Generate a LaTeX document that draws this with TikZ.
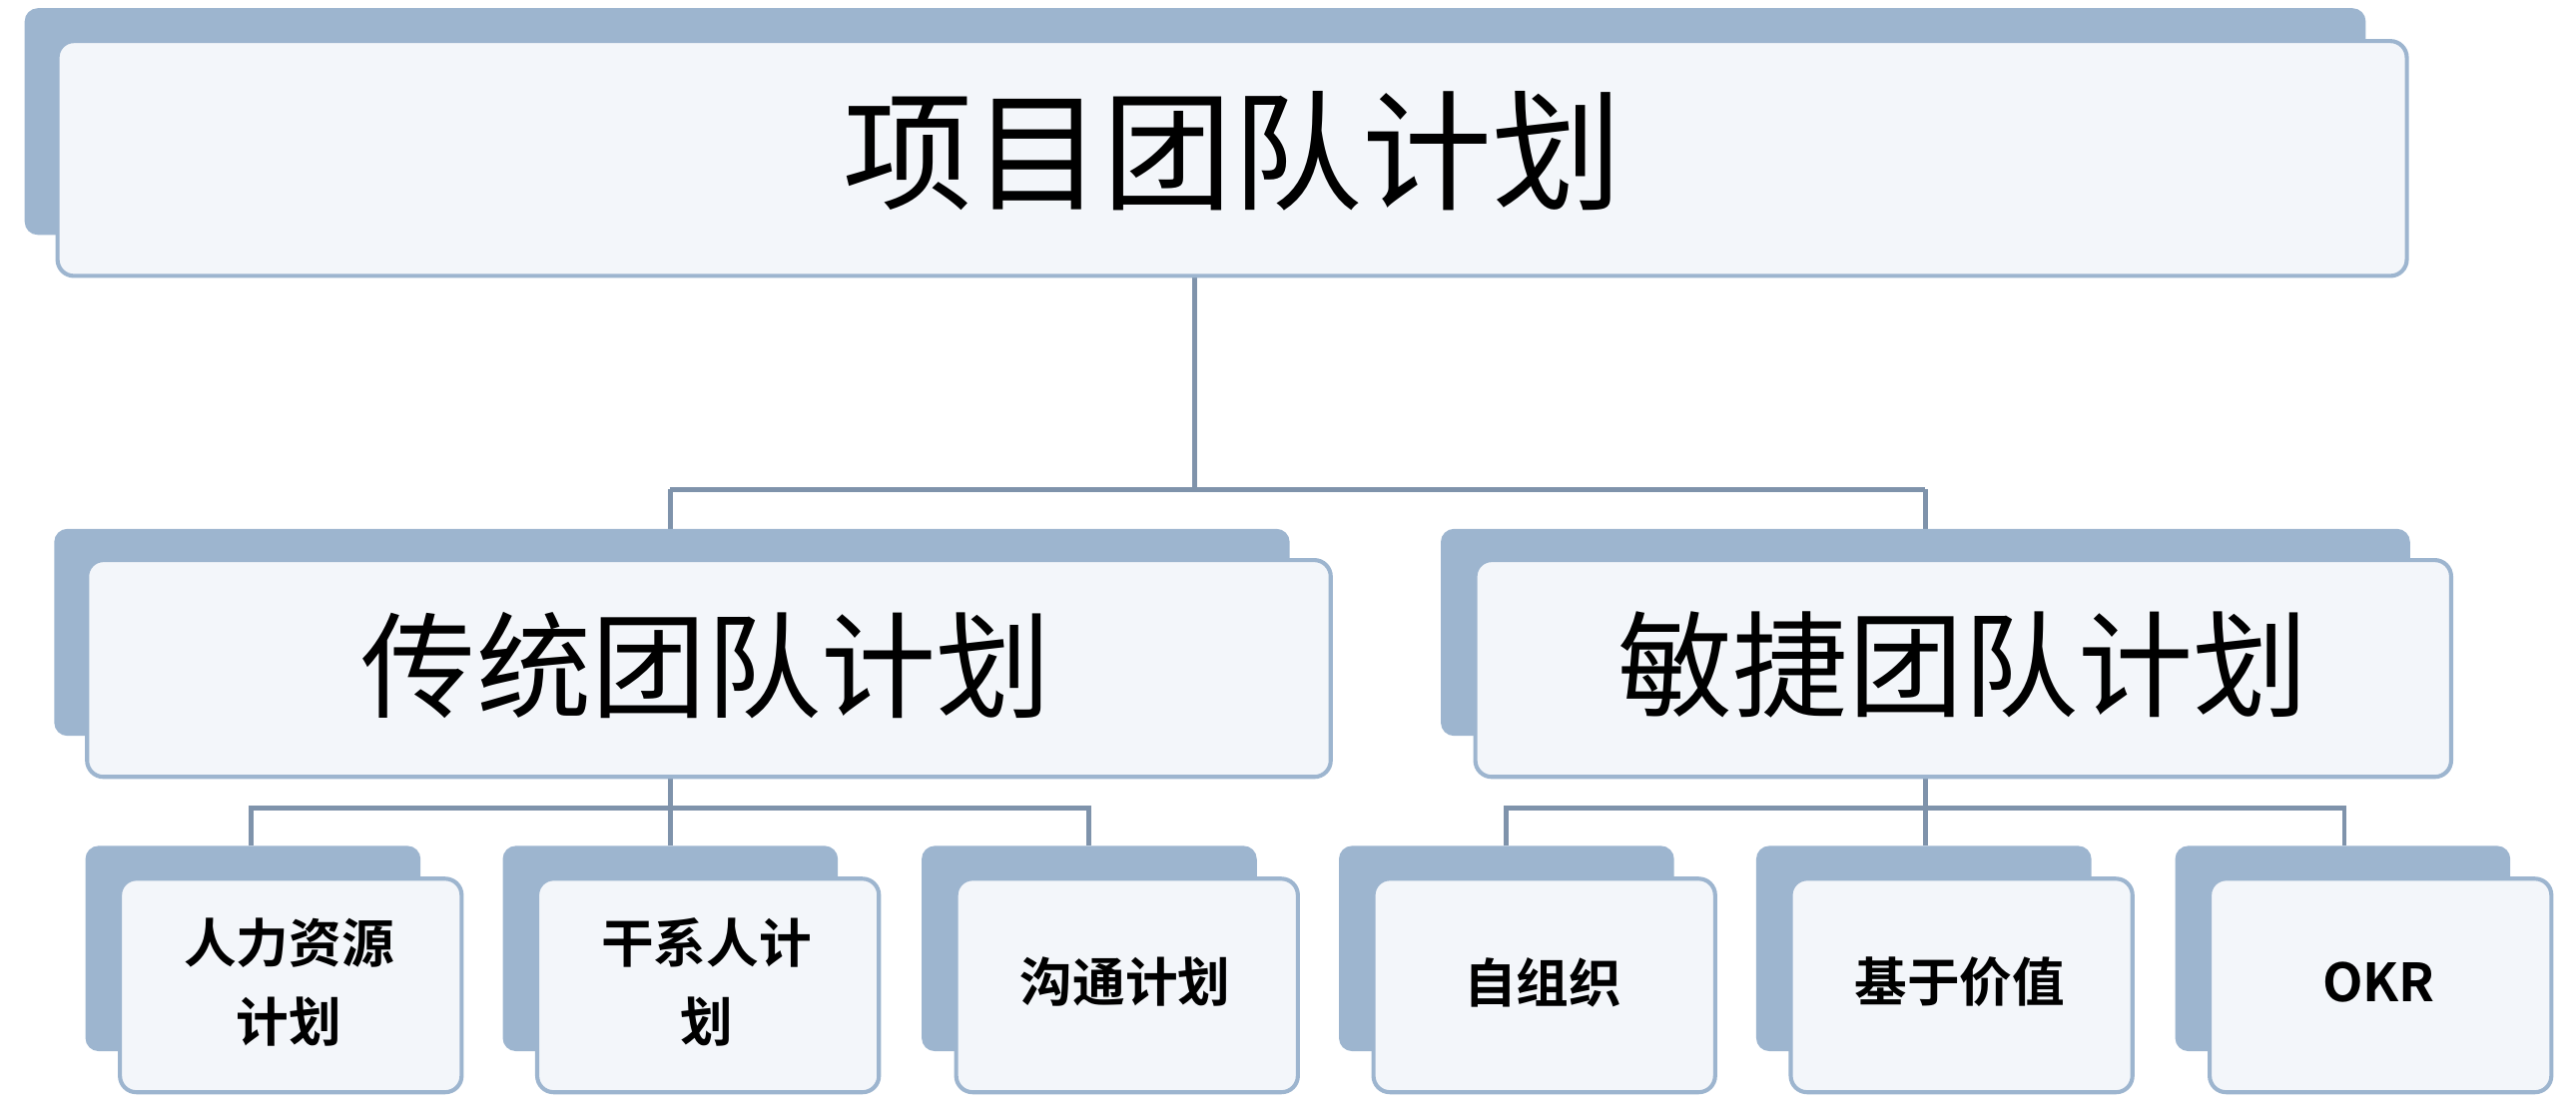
\documentclass[tikz,border=0pt]{standalone}
\usepackage{fontspec}
\newfontfamily\cjk{Noto Sans CJK SC}
\newfontfamily\cjkb{Noto Sans CJK SC Bold}
\definecolor{backc}{HTML}{9DB5CF}
\definecolor{frontc}{HTML}{F3F6FA}
\definecolor{linec}{HTML}{7F93AB}
\tikzset{
 backbox/.style={fill=backc,rounded corners=8pt,draw=none},
 frontbox/.style={fill=frontc,draw=backc,line width=2.5pt,rounded corners=10pt},
 conn/.style={draw=linec,line width=3pt},
 bigtxt/.style={font=\cjk\fontsize{79}{90}\selectfont},
 midtxt/.style={font=\cjk\fontsize{70}{80}\selectfont},
 smalltxt/.style={font=\cjkb\fontsize{32}{48}\selectfont,align=center}
}
\begin{document}
\begin{tikzpicture}[x=1pt,y=-1pt]
\useasboundingbox (0,0) rectangle (1568,677);
% connectors
\coordinate (j1) at (727,298);
\coordinate (jl) at (408,298);
\coordinate (jr) at (1172,298);
\draw[conn] (727,168) -- (j1);
\draw[conn] (jl) -- (jr);
\draw[conn] (jl) -- (408,322);
\draw[conn] (jr) -- (1172,322);
\draw[conn] (408,473) -- (408,492);
\draw[conn] (153,515) -- (153,492) -- (663,492) -- (663,515);
\draw[conn] (408,492) -- (408,515);
\draw[conn] (1172,473) -- (1172,492);
\draw[conn] (917,515) -- (917,492) -- (1427,492) -- (1427,515);
\draw[conn] (1172,492) -- (1172,515);
% top
\fill[backbox] (15,5) rectangle (1440,143);
\draw[frontbox] (35,25) rectangle (1465,168);
\node[bigtxt] (top) at (750,92) {项目团队计划};
% mid
\fill[backbox] (33,322) rectangle (785,448);
\draw[frontbox] (53,341) rectangle (810,473);
\node[midtxt] (trad) at (430,405) {传统团队计划};
\fill[backbox] (877,322) rectangle (1467,448);
\draw[frontbox] (898,341) rectangle (1492,473);
\node[midtxt] (agile) at (1195,405) {敏捷团队计划};
% bottom
\foreach \x/\t/\n in {52/{人力资源\\计划}/b1,306/{干系人计\\划}/b2,561/{沟通计划}/b3,815/{自组织}/b4,1069/{基于价值}/b5,1324/{OKR}/b6}{
 \fill[backbox] (\x,515) rectangle ({\x+204},640);
 \draw[frontbox] ({\x+21},535) rectangle ({\x+229},665);
 \node[smalltxt] (\n) at ({\x+124},598) {\t};
}
\end{tikzpicture}
\end{document}
